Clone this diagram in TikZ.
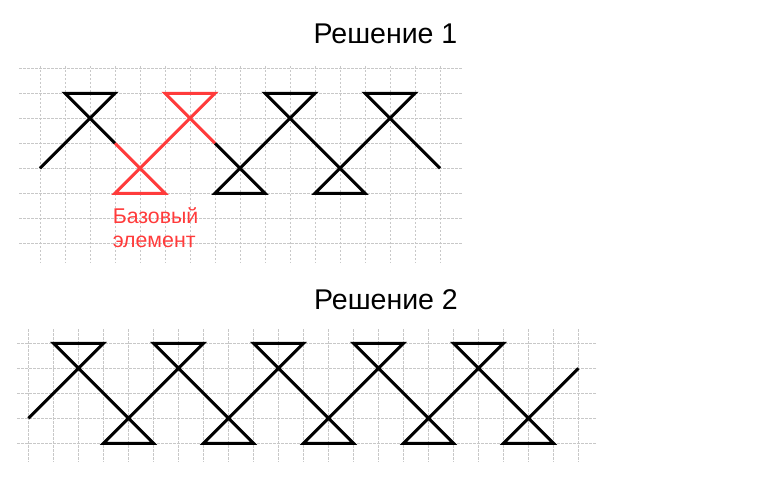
\documentclass[tikz,border=0pt]{standalone}
\usepackage{fontspec}
\setmainfont{Liberation Sans}
\definecolor{gridgray}{RGB}{200,200,200}
\definecolor{basered}{RGB}{255,59,59}
\begin{document}
\begin{tikzpicture}[x=18.75pt, y=18.75pt,
   gridline/.style={gridgray, line width=.75pt, dash pattern=on 2pt off 1pt},
   stitch/.style={black, line width=2.25pt},
   title/.style={anchor=base, font=\fontsize{21.4}{25}\selectfont}]
   \useasboundingbox (0,0) rectangle (30.64,-19.64);

   \node[title] (sol1) at (15.42,-1.76) {Решение 1};
   \node[title] (sol2) at (15.44,-12.37) {Решение 2};

   \begin{scope}[shift={(1.6,-3.733)}]
   \foreach \i in {0,...,16}
   \draw[gridline] (\i,1.1) -- (\i,-6.8);
   \foreach \j in {-6,...,1}
   \draw[gridline] (-.84,\j) -- (16.9,\j);

   \draw[stitch] (0,-3) -- (3,0) -- (1,0) -- (3,-2);
   \draw[stitch, basered] (3,-2) -- (5,-4) -- (3,-4) -- (7,0) -- (5,0) -- (7,-2);
   \draw[stitch] (7,-2) -- (9,-4) -- (7,-4) -- (11,0) -- (9,0) -- (13,-4)
      -- (11,-4) -- (15,0) -- (13,0) -- (16,-3);

   \node[anchor=base west, align=left, basered, inner sep=0pt,
      font=\fontsize{16}{18}\selectfont] (base) at (2.9,-6.15) {Базовый\\элемент};
   \end{scope}

   \begin{scope}[shift={(1.14,-13.733)}]
   \foreach \i in {0,...,22}
   \draw[gridline] (\i,.56) -- (\i,-4.75);
   \foreach \j in {-4,...,0}
   \draw[gridline] (-.46,\j) -- (22.7,\j);

   \draw[stitch] (0,-3) \foreach \k in {0,4,...,16}
      { -- (\k+3,0) -- (\k+1,0) -- (\k+5,-4) -- (\k+3,-4) } -- (22,-1);
   \end{scope}

\end{tikzpicture}
\end{document}
